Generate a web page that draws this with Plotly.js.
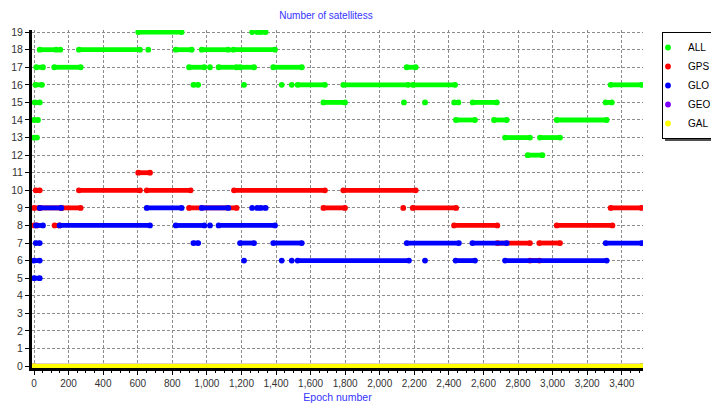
<!DOCTYPE html>
<html>
<head>
<meta charset="utf-8">
<script src="https://cdn.plot.ly/plotly-3.0.1.min.js"></script>
<style>html,body{margin:0;padding:0;background:#fff;}#chart{width:711px;height:403px;}</style>
</head>
<body>
<div id="chart"></div>
<script>
// Series names (as visible in legend)
const seriesNames = ["ALL", "GPS", "GLO", "GEO", "GAL"];

// Runs of constant satellite count: start epoch, end epoch, count
const allStart = [0, 0, 4, 8, 13, 33, 152, 117, 260, 603, 661, 820, 897, 922, 1018, 970, 1068, 1153, 1192, 1215, 1262, 1291, 1310, 1384, 1433, 1491, 1525, 1674, 1789, 2140, 2156, 2191, 2262, 2431, 2441, 2538, 2661, 2725, 2856, 2927, 3024, 3307, 3336];
const allEnd   = [17, 23, 33, 46, 52, 129, 152, 270, 613, 854, 661, 912, 985, 950, 1018, 1124, 1172, 1394, 1273, 1215, 1262, 1291, 1340, 1549, 1433, 1491, 1683, 1799, 2165, 2140, 2208, 2436, 2262, 2455, 2551, 2677, 2735, 2869, 2941, 3043, 3313, 3342, 3515];
const allVal   = [13, 14, 15, 16, 17, 18, 18, 17, 18, 19, 18, 18, 17, 16, 17, 18, 17, 18, 17, 16, 19, 19, 19, 17, 16, 16, 16, 15, 16, 15, 17, 16, 15, 15, 14, 15, 14, 13, 12, 13, 14, 15, 16];

const gpsStart = [0, 0, 10, 33, 119, 158, 260, 603, 652, 897, 1157, 1674, 1789, 2136, 2191, 2430, 2680, 2869, 2923, 3024, 3336];
const gpsEnd   = [17, 33, 33, 158, 148, 270, 613, 671, 906, 1172, 1683, 1799, 2208, 2136, 2442, 2680, 2869, 2923, 3043, 3346, 3515];
const gpsVal   = [8, 9, 10, 9, 8, 9, 10, 11, 10, 9, 10, 9, 10, 9, 9, 8, 7, 6, 7, 8, 9];

const gloStart = [0, 0, 10, 12, 33, 148, 652, 820, 922, 970, 1018, 1068, 1192, 1215, 1262, 1291, 1310, 1384, 1433, 1491, 1525, 2156, 2262, 2439, 2536, 2725, 3307];
const gloEnd   = [33, 33, 33, 52, 158, 671, 854, 985, 950, 1124, 1018, 1394, 1273, 1215, 1262, 1291, 1340, 1549, 1433, 1491, 2169, 2458, 2262, 2551, 2735, 3313, 3515];
const gloVal   = [5, 6, 7, 8, 9, 8, 9, 8, 7, 9, 8, 8, 7, 6, 9, 9, 9, 7, 6, 6, 6, 7, 6, 6, 7, 6, 7];

const geoStart = [0];
const geoEnd   = [3515];
const geoVal   = [0];

const galStart = [0];
const galEnd   = [3515];
const galVal   = [0];

const xTickStep = 200;

// ---- styling ----
const colors = ["#00ff00", "#ff0000", "#0000ff", "#8000ff", "#ffff00"];
const runs = [
  [allStart, allEnd, allVal],
  [gpsStart, gpsEnd, gpsVal],
  [gloStart, gloEnd, gloVal],
  [geoStart, geoEnd, geoVal],
  [galStart, galEnd, galVal]
];

function lineOf(s, e, v) {
  const x = [], y = [];
  for (let i = 0; i < s.length; i++) { x.push(s[i], e[i], null); y.push(v[i], v[i], null); }
  return {x, y};
}
function endsOf(s, e, v) {
  const x = [], y = [];
  for (let i = 0; i < s.length; i++) {
    x.push(s[i]); y.push(v[i]);
    if (e[i] !== s[i]) { x.push(e[i]); y.push(v[i]); }
  }
  return {x, y};
}

const traces = [];
runs.forEach((r, k) => {
  const L = lineOf(r[0], r[1], r[2]);
  const E = endsOf(r[0], r[1], r[2]);
  traces.push({
    type: "scatter", mode: "lines", x: L.x, y: L.y, name: seriesNames[k],
    showlegend: false, hoverinfo: "skip",
    line: {color: colors[k], width: 4.8}, connectgaps: false
  });
  traces.push({
    type: "scatter", mode: "markers", x: E.x, y: E.y, name: seriesNames[k],
    showlegend: true,
    marker: {color: colors[k], size: 5.8, line: {width: 0}}
  });
});

const W = 711, H = 403;
const M = {l: 32, r: 68, t: 30, b: 35};
const pw = W - M.l - M.r, ph = H - M.t - M.b;
function px2paperX(p) { return (p - M.l) / pw; }
function px2paperY(p) { return (H - M.b - p) / ph; }

const font = "Liberation Sans, Arial, sans-serif";
const legendLeft = 662, legendTop = 32;

const layout = {
  width: W, height: H,
  margin: M,
  paper_bgcolor: "#ffffff",
  plot_bgcolor: "#ffffff",
  font: {family: font, size: 10, color: "#333333"},
  title: {
    text: "Number of satellitess",
    font: {family: font, size: 10, color: "#3333ff"},
    xref: "container", x: 326 / W, xanchor: "center",
    yref: "container", y: 1 - 15 / H, yanchor: "middle"
  },
  xaxis: {
    range: [-11.6, 3523],
    dtick: xTickStep, tick0: 0,
    tickformat: ",d",
    ticks: "outside", ticklen: 4, tickcolor: "#000000", tickwidth: 1,
    minor: {ticks: "outside", ticklen: 2, dtick: 50, tickcolor: "#000000", showgrid: false},
    showline: true, linecolor: "#000000", linewidth: 2.5,
    showgrid: true, gridcolor: "#8c8c8c", griddash: "3px,2px", gridwidth: 1,
    zeroline: false,
    tickfont: {family: font, size: 10, color: "#333333"},
    title: {text: "Epoch number", font: {family: font, size: 10.5, color: "#3333ff"}, standoff: 6}
  },
  yaxis: {
    range: [-0.11, 19.12],
    dtick: 1, tick0: 0,
    ticks: "outside", ticklen: 4, tickcolor: "#000000", tickwidth: 1,
    showline: true, linecolor: "#000000", linewidth: 3,
    showgrid: true, gridcolor: "#8c8c8c", griddash: "3px,2px", gridwidth: 1,
    zeroline: false,
    tickfont: {family: font, size: 10.5, color: "#333333"}
  },
  showlegend: true,
  legend: {
    xref: "container", yref: "container",
    x: legendLeft / W, y: 1 - legendTop / H, xanchor: "left", yanchor: "top",
    bgcolor: "#ffffff", bordercolor: "#000000", borderwidth: 1,
    tracegroupgap: 0, indentation: -15,
    font: {family: font, size: 10, color: "#000000"},
    itemclick: false, itemdoubleclick: false
  },
  shapes: [
    {type: "rect", xref: "paper", yref: "paper", layer: "above",
     x0: px2paperX(legendLeft + 3), x1: px2paperX(720), y0: px2paperY(legendTop + 3), y1: px2paperY(141),
     fillcolor: "#505050", line: {width: 0}}
  ]
};

Plotly.newPlot("chart", traces, layout, {staticPlot: true, displayModeBar: false});
</script>
</body>
</html>
